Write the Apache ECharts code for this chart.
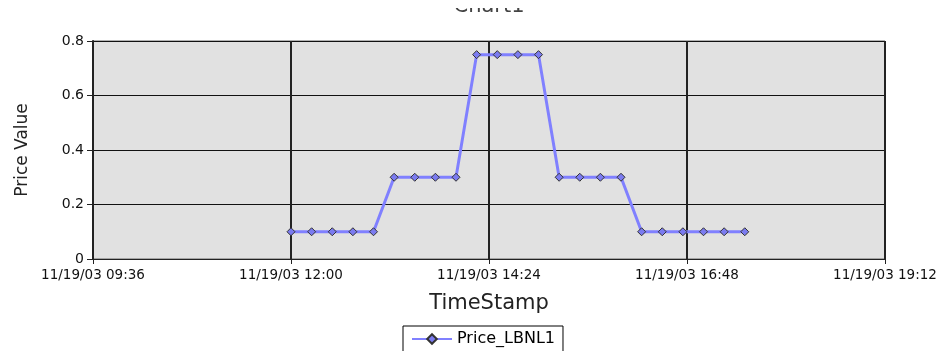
<!DOCTYPE html>
<html><head><meta charset="utf-8">
<script src="https://cdn.jsdelivr.net/npm/echarts@6/dist/echarts.min.js"></script>
<style>html,body{margin:0;padding:0;background:#fff}#c{width:945px;height:351px}</style>
</head><body><div id="c"></div>
<script>
const times = ["12:00","12:15","12:30","12:45","13:00","13:15","13:30","13:45","14:00","14:15","14:30","14:45","15:00","15:15","15:30","15:45","16:00","16:15","16:30","16:45","17:00","17:15","17:30"];
const prices = [0.1,0.1,0.1,0.1,0.1,0.3,0.3,0.3,0.3,0.75,0.75,0.75,0.75,0.3,0.3,0.3,0.3,0.1,0.1,0.1,0.1,0.1,0.1];
const datePrefix = "11/19/03";
const xMinTime = "09:36", xMaxTime = "19:12", xStepMin = 144;
const yTicks = [0,0.2,0.4,0.6,0.8];

const toMin = s => { const [h,m] = s.split(':').map(Number); return h*60+m; };
const fmt = v => { const h = Math.floor(v/60), m = v%60; return datePrefix + ' ' + String(h).padStart(2,'0') + ':' + String(m).padStart(2,'0'); };
const font = '"DejaVu Sans", Verdana, sans-serif';

const chart = echarts.init(document.getElementById('c'));
chart.setOption({
  animation: false,
  title: { text: 'Chart1', left: 484, top: -9, textAlign: 'center',
    textStyle: { fontFamily: font, fontSize: 21, fontWeight: 'normal', color: '#444' } },
  graphic: [{ type: 'rect', left: 0, top: 0, z: 100, shape: { width: 945, height: 8 }, style: { fill: '#fff' } }],
  grid: { left: 93, right: 60, top: 41, bottom: 92, show: true, backgroundColor: '#e1e1e1', borderColor: '#666', borderWidth: 1 },
  xAxis: {
    type: 'value', min: toMin(xMinTime), max: toMin(xMaxTime), interval: xStepMin,
    name: 'TimeStamp', nameLocation: 'middle', nameGap: 34,
    nameTextStyle: { fontFamily: font, fontSize: 21, color: '#222' },
    axisLine: { show: true, lineStyle: { color: '#222', width: 1 } },
    axisTick: { show: true, length: 5, lineStyle: { color: '#222' } },
    axisLabel: { formatter: fmt, fontFamily: font, fontSize: 13.5, color: '#111', margin: 9 },
    splitLine: { show: true, lineStyle: { color: '#222', width: 2 } }
  },
  yAxis: {
    type: 'value', min: yTicks[0], max: yTicks[yTicks.length-1], interval: 0.2,
    name: 'Price Value', nameLocation: 'middle', nameGap: 62,
    nameTextStyle: { fontFamily: font, fontSize: 17, color: '#222' },
    axisLine: { show: true, lineStyle: { color: '#222', width: 2 } },
    axisTick: { show: true, length: 6, lineStyle: { color: '#222' } },
    axisLabel: { fontFamily: font, fontSize: 14, color: '#111', margin: 9,
      formatter: v => String(Math.round(v*10)/10) },
    splitLine: { show: true, lineStyle: { color: '#111', width: 1 } }
  },
  legend: {
    data: ['Price_LBNL1'], left: 403, top: 326, orient: 'horizontal',
    borderColor: '#000', borderWidth: 1, padding: [5, 8, 8, 8],
    itemWidth: 40, itemHeight: 12, itemGap: 5,
    textStyle: { fontFamily: font, fontSize: 16, color: '#000' }
  },
  series: [{
    name: 'Price_LBNL1', type: 'line',
    data: times.map((t,i) => [toMin(t), prices[i]]),
    symbol: 'diamond', symbolSize: 8, showAllSymbol: true,
    lineStyle: { color: '#8080ff', width: 3 },
    itemStyle: { color: '#7b7bf0', borderColor: '#333', borderWidth: 1 }
  }]
});
</script></body></html>
